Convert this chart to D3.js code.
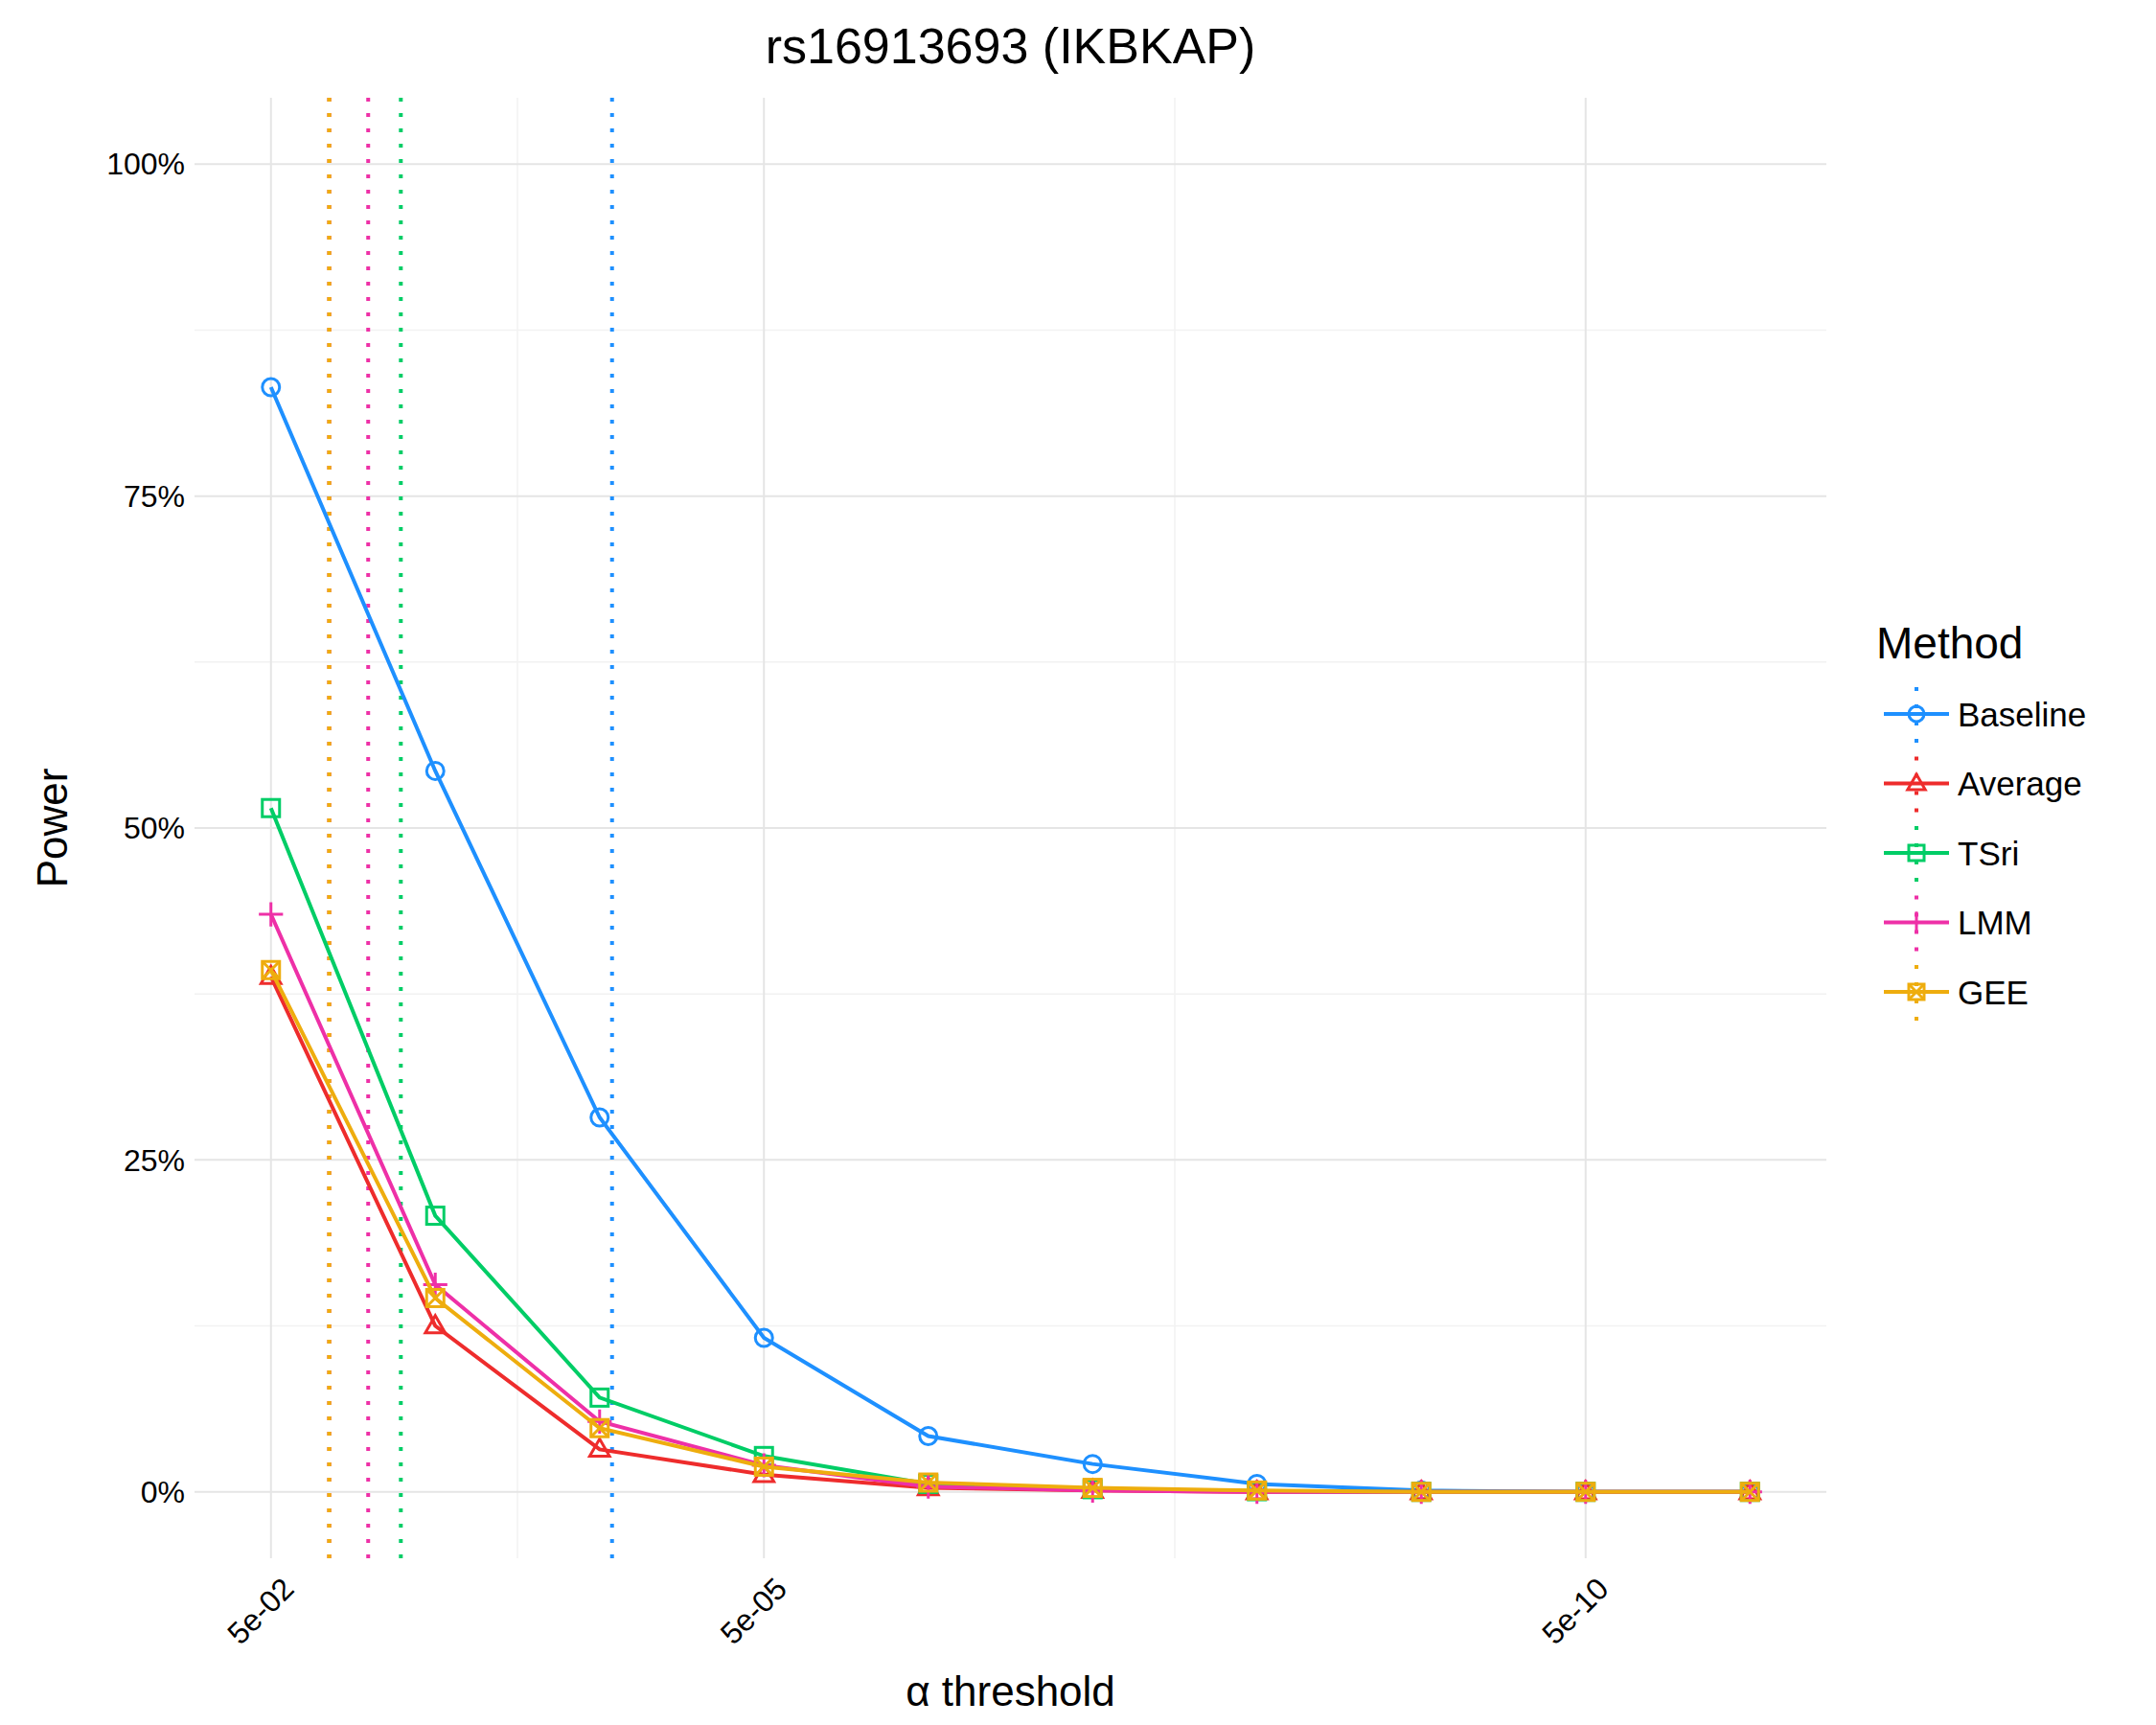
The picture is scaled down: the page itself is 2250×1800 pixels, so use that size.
<!DOCTYPE html>
<html><head><meta charset="utf-8">
<script src="https://cdn.jsdelivr.net/npm/d3@7"></script>
<style>body{margin:0;background:#fff}text{font-family:"Liberation Sans",Arial,sans-serif}</style>
</head><body>
<svg id="chart" width="2250" height="1800"></svg>
<script>
var alphas = [5e-2, 5e-3, 5e-4, 5e-5, 5e-6, 5e-7, 5e-8, 5e-9, 5e-10, 5e-11];
var methods = ['Baseline', 'Average', 'TSri', 'LMM', 'GEE'];
var colors = ['#1E90FF', '#EE2C2C', '#00CD66', '#EE30A7', '#EEAD0E'];
var baseline = [83.2, 54.3, 28.2, 11.6, 4.2, 2.1, 0.6, 0.1, 0, 0];
var average = [38.8, 12.5, 3.2, 1.3, 0.3, 0.1, 0, 0, 0, 0];
var tsri = [51.5, 20.8, 7.1, 2.7, 0.6, 0.2, 0.05, 0, 0, 0];
var lmm = [43.5, 15.6, 5.3, 2.0, 0.4, 0.1, 0, 0, 0, 0];
var gee = [39.3, 14.6, 4.8, 1.9, 0.7, 0.3, 0.1, 0, 0, 0];
var series = [baseline, average, tsri, lmm, gee];
var effAlpha = [4.2e-4, 0.0221, 0.0081, 0.0128, 0.0221];
var xTicks = [5e-2, 5e-5, 5e-10];
var xMinor = [5e-2 / Math.pow(10, 1.5), 5e-5 / Math.pow(10, 2.5)];
var yTicks = [0, 25, 50, 75, 100];
var yMinor = [12.5, 37.5, 62.5, 87.5];

var svg = d3.select('#chart');
var L = 203, R = 1906, T = 102, B = 1626;
var x = d3.scaleLog().domain([5e-2 * Math.pow(10, 0.465), 5e-11 / Math.pow(10, 0.465)]).range([L, R]);
var y = d3.scaleLinear().domain([-5, 105]).range([B, T]);

var g = svg.append('g');
yMinor.forEach(function (v) {
    g.append('line').attr('x1', L).attr('x2', R).attr('y1', y(v)).attr('y2', y(v)).attr('stroke', '#f2f2f2').attr('stroke-width', 1.5);
});
xMinor.forEach(function (v) {
    g.append('line').attr('x1', x(v)).attr('x2', x(v)).attr('y1', T).attr('y2', B).attr('stroke', '#f2f2f2').attr('stroke-width', 1.5);
});
yTicks.forEach(function (v) {
    g.append('line').attr('x1', L).attr('x2', R).attr('y1', y(v)).attr('y2', y(v)).attr('stroke', '#e5e5e5').attr('stroke-width', 2);
    g.append('text').attr('x', L - 10).attr('y', y(v)).attr('dy', '0.35em').attr('text-anchor', 'end')
        .attr('font-size', 32).text(v + '%');
});
xTicks.forEach(function (v) {
    g.append('line').attr('x1', x(v)).attr('x2', x(v)).attr('y1', T).attr('y2', B).attr('stroke', '#e5e5e5').attr('stroke-width', 2);
    g.append('text').attr('transform', 'translate(' + (x(v) + 10) + ',' + (B + 18) + ') rotate(-45)')
        .attr('text-anchor', 'end').attr('dy', '0.7em').attr('font-size', 32).text(d3.format('.0e')(v).replace(/e-(\d)$/, 'e-0$1'));
});

// effective alpha lines
effAlpha.forEach(function (a, i) {
    g.append('line').attr('x1', x(a)).attr('x2', x(a)).attr('y1', T).attr('y2', B)
        .attr('stroke', colors[i]).attr('stroke-width', 4).attr('stroke-dasharray', '4,12');
});

function symbol(sel, i, s) {
    var c = colors[i];
    if (i == 0) sel.append('circle').attr('r', s).attr('fill', 'none').attr('stroke', c).attr('stroke-width', 3);
    else if (i == 1) sel.append('path').attr('d', 'M0,' + (-s * 1.2) + 'L' + (s * 1.15) + ',' + (s * 0.8) + 'L' + (-s * 1.15) + ',' + (s * 0.8) + 'Z').attr('fill', 'none').attr('stroke', c).attr('stroke-width', 3);
    else if (i == 2) sel.append('rect').attr('x', -s).attr('y', -s).attr('width', 2 * s).attr('height', 2 * s).attr('fill', 'none').attr('stroke', c).attr('stroke-width', 3);
    else if (i == 3) sel.append('path').attr('d', 'M' + (-s * 1.4) + ',0H' + (s * 1.4) + 'M0,' + (-s * 1.4) + 'V' + (s * 1.4)).attr('stroke', c).attr('stroke-width', 3);
    else {
        sel.append('rect').attr('x', -s).attr('y', -s).attr('width', 2 * s).attr('height', 2 * s).attr('fill', 'none').attr('stroke', c).attr('stroke-width', 3);
        sel.append('path').attr('d', 'M' + (-s) + ',' + (-s) + 'L' + s + ',' + s + 'M' + s + ',' + (-s) + 'L' + (-s) + ',' + s).attr('stroke', c).attr('stroke-width', 3);
    }
}

var line = d3.line().x(function (d, j) { return x(alphas[j]); }).y(function (d) { return y(d); });
series.forEach(function (s, i) {
    g.append('path').datum(s).attr('d', line).attr('fill', 'none').attr('stroke', colors[i]).attr('stroke-width', 4);
    s.forEach(function (v, j) {
        symbol(g.append('g').attr('transform', 'translate(' + x(alphas[j]) + ',' + y(v) + ')'), i, 9);
    });
});

svg.append('text').attr('x', (L + R) / 2).attr('y', 66).attr('text-anchor', 'middle').attr('font-size', 52).text('rs16913693 (IKBKAP)');
svg.append('text').attr('x', (L + R) / 2).attr('y', 1780).attr('text-anchor', 'middle').attr('font-size', 44).text('α threshold');
svg.append('text').attr('transform', 'translate(70,' + (T + B) / 2 + ') rotate(-90)').attr('text-anchor', 'middle').attr('font-size', 44).text('Power');

// legend
var lg = svg.append('g');
lg.append('text').attr('x', 1958).attr('y', 687).attr('font-size', 46).text('Method');
methods.forEach(function (m, i) {
    var cy = 745 + i * 72.5;
    lg.append('line').attr('x1', 2000).attr('x2', 2000).attr('y1', cy - 36).attr('y2', cy + 36)
        .attr('stroke', colors[i]).attr('stroke-width', 4).attr('stroke-dasharray', '4,14').attr('stroke-dashoffset', -8);
    lg.append('line').attr('x1', 1966).attr('x2', 2034).attr('y1', cy).attr('y2', cy).attr('stroke', colors[i]).attr('stroke-width', 4);
    symbol(lg.append('g').attr('transform', 'translate(2000,' + cy + ')'), i, 8);
    lg.append('text').attr('x', 2043).attr('y', cy).attr('dy', '0.36em').attr('font-size', 35).text(m);
});
</script>
</body></html>
